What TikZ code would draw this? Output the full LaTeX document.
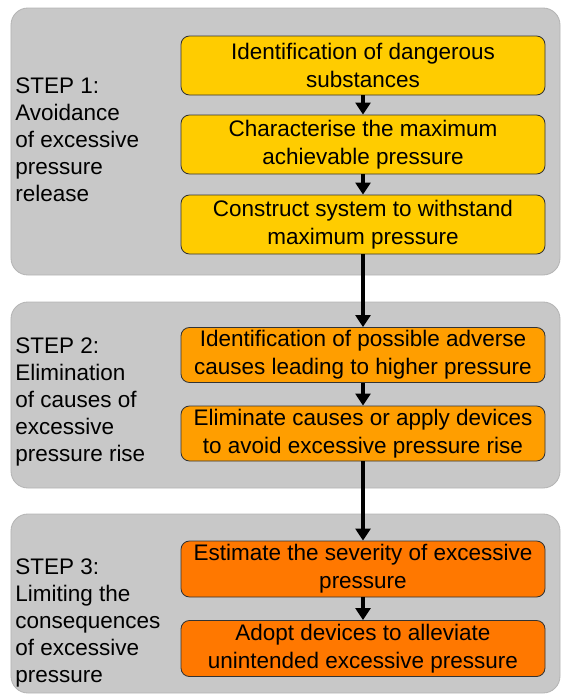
\documentclass[tikz,border=0pt]{standalone}
\usepackage{fontspec}
\setmainfont{Liberation Sans}
\usepackage{xcolor}
\usetikzlibrary{arrows.meta,positioning}

\definecolor{panelgray}{HTML}{C8C8C8}
\definecolor{paneledge}{HTML}{B4B4B4}
\definecolor{stepyellow}{HTML}{FFCC00}
\definecolor{steporange}{HTML}{FF9E00}
\definecolor{stepdark}{HTML}{FF7800}

\begin{document}
\begin{tikzpicture}[
		panel/.style={rectangle, rounded corners=12pt, draw=paneledge, fill=panelgray, line width=0.6pt, minimum width=13.725cm},
		stepbox/.style={rectangle, rounded corners=6pt, draw=black!80, line width=0.6pt, minimum width=9.1cm, align=center, inner sep=1pt, font=\fontsize{16}{19.9}\selectfont},
		steplabel/.style={anchor=west, align=left, inner sep=0pt, font=\fontsize{16}{19.2}\selectfont},
		flow/.style={-{Triangle[width=10.5pt, length=8.5pt]}, line width=2.8pt},
		]

		\useasboundingbox (0,0) rectangle (14.05,-17.375);

		% --- Panels ---
		\node[panel, minimum height=6.675cm] (P1) at (7.1375,-3.5375) {};
		\node[panel, minimum height=4.65cm] (P2) at (7.1375,-9.875) {};
		\node[panel, minimum height=4.475cm] (P3) at (7.1375,-15.0875) {};

		% --- Step 1 ---
		\node[steplabel] (L1) at (0.375,-3.5) {STEP 1:\\Avoidance\\of excessive\\pressure\\release};
		\node[stepbox, fill=stepyellow, minimum height=1.475cm] (A) at (9.075,-1.6375) {Identification of dangerous\\substances};
		\node[stepbox, fill=stepyellow, minimum height=1.475cm] (B) at (9.075,-3.6125) {Characterise the maximum\\achievable pressure};
		\node[stepbox, fill=stepyellow, minimum height=1.475cm] (C) at (9.075,-5.6125) {Construct system to withstand\\maximum pressure};

		% --- Step 2 ---
		\node[steplabel] (L2) at (0.375,-10.05) {STEP 2:\\Elimination\\of causes of\\excessive\\pressure rise};
		\node[stepbox, fill=steporange, minimum height=1.375cm] (D) at (9.075,-8.875) {Identification of possible adverse\\causes leading to higher pressure};
		\node[stepbox, fill=steporange, minimum height=1.375cm] (E) at (9.075,-10.8375) {Eliminate causes or apply devices\\to avoid excessive pressure rise};

		% --- Step 3 ---
		\node[steplabel] (L3) at (0.375,-15.575) {STEP 3:\\Limiting the\\consequences\\of excessive\\pressure};
		\node[stepbox, fill=stepdark, minimum height=1.4cm] (F) at (9.075,-14.225) {Estimate the severity of excessive\\pressure};
		\node[stepbox, fill=stepdark, minimum height=1.4cm] (G) at (9.075,-16.2125) {Adopt devices to alleviate\\unintended excessive pressure};

		\draw[flow] (A) -- (B);
		\draw[flow] (B) -- (C);
		\draw[flow] (C) -- (D);
		\draw[flow] (D) -- (E);
		\draw[flow] (E) -- (F);
		\draw[flow] (F) -- (G);

	\end{tikzpicture}
\end{document}
